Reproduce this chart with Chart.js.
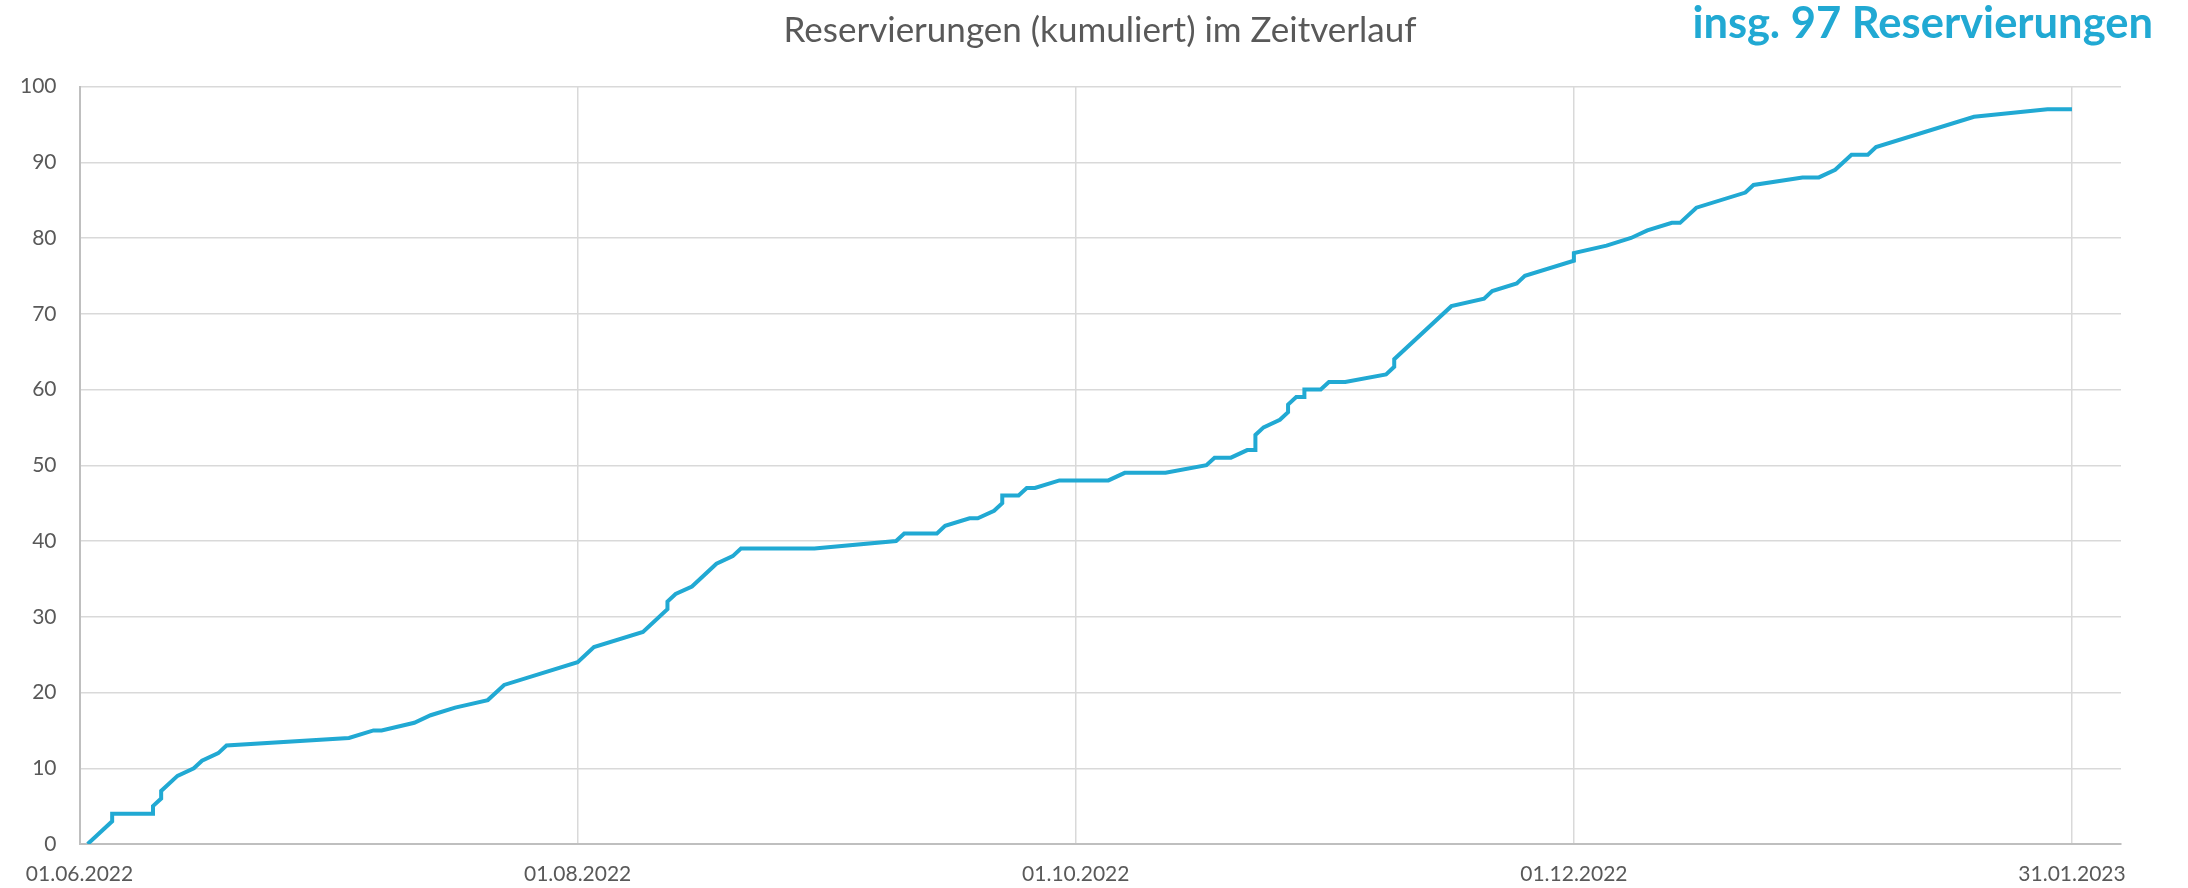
<!DOCTYPE html>
<html>
<head>
<meta charset="utf-8">
<script src="https://cdn.jsdelivr.net/npm/chart.js@4/dist/chart.umd.min.js"></script>
<style>
  html, body { margin: 0; padding: 0; background: #ffffff; }
  #wrap { position: relative; width: 2188px; height: 888px; }
  #total { position: absolute; right: 35px; top: -5px; font-family: Lato, "Open Sans", sans-serif; font-weight: 700; font-size: 43.5px; color: #21a9d3; white-space: nowrap; }
</style>
</head>
<body>
<div id="wrap">
  <canvas id="c" width="2188" height="888"></canvas>
  <div id="total">insg. 97 Reservierungen</div>
</div>
<script>
// Reservation dates (one point per vertex of the cumulative line)
const dates = [
  '2022-06-02','2022-06-05','2022-06-05','2022-06-10','2022-06-10','2022-06-11','2022-06-11','2022-06-13',
  '2022-06-15','2022-06-16','2022-06-18','2022-06-19','2022-07-04','2022-07-07','2022-07-08','2022-07-12',
  '2022-07-14','2022-07-17','2022-07-21','2022-07-23','2022-08-01','2022-08-03','2022-08-09','2022-08-12',
  '2022-08-12','2022-08-13','2022-08-15','2022-08-18','2022-08-20','2022-08-21','2022-08-30','2022-09-09',
  '2022-09-10','2022-09-14','2022-09-15','2022-09-18','2022-09-19','2022-09-21','2022-09-22','2022-09-22',
  '2022-09-24','2022-09-25','2022-09-26','2022-09-29','2022-10-05','2022-10-07','2022-10-12','2022-10-17',
  '2022-10-18','2022-10-20','2022-10-22','2022-10-23','2022-10-23','2022-10-24','2022-10-26','2022-10-27',
  '2022-10-27','2022-10-28','2022-10-29','2022-10-29','2022-10-31','2022-11-01','2022-11-03','2022-11-08',
  '2022-11-09','2022-11-09','2022-11-16','2022-11-20','2022-11-21','2022-11-24','2022-11-25','2022-12-01',
  '2022-12-01','2022-12-05','2022-12-08','2022-12-10','2022-12-13','2022-12-14','2022-12-16','2022-12-22',
  '2022-12-23','2022-12-29','2022-12-31','2023-01-02','2023-01-04','2023-01-06','2023-01-07','2023-01-19',
  '2023-01-28','2023-01-31'
];
// Cumulative reservations at each date
const cumulative = [
  0, 3, 4, 4, 5, 6, 7, 9,
  10, 11, 12, 13, 14, 15, 15, 16,
  17, 18, 19, 21, 24, 26, 28, 31,
  32, 33, 34, 37, 38, 39, 39, 40,
  41, 41, 42, 43, 43, 44, 45, 46,
  46, 47, 47, 48, 48, 49, 49, 50,
  51, 51, 52, 52, 54, 55, 56, 57,
  58, 59, 59, 60, 60, 61, 61, 62,
  63, 64, 71, 72, 73, 74, 75, 77,
  78, 79, 80, 81, 82, 82, 84, 86,
  87, 88, 88, 89, 91, 91, 92, 96,
  97, 97
];
// X-axis tick dates and axis range
const tickDates = ['2022-06-01','2022-08-01','2022-10-01','2022-12-01','2023-01-31'];
const axisStart = '2022-06-01';
const axisEnd = '2023-02-06';
const yTicks = [0,10,20,30,40,50,60,70,80,90,100];

const DAY = 86400000;
const t0 = Date.parse(axisStart + 'T00:00:00Z');
const toDay = s => Math.round((Date.parse(s + 'T00:00:00Z') - t0) / DAY);
const fmt = d => {
  const dt = new Date(t0 + d * DAY);
  const p = n => String(n).padStart(2, '0');
  return p(dt.getUTCDate()) + '.' + p(dt.getUTCMonth() + 1) + '.' + dt.getUTCFullYear();
};
const points = dates.map((d, i) => ({ x: toDay(d), y: cumulative[i] }));
const tickDays = tickDates.map(toDay);

new Chart(document.getElementById('c'), {
  type: 'line',
  data: {
    datasets: [{
      label: 'Reservierungen',
      data: points,
      borderColor: '#21a9d3',
      borderWidth: 4,
      pointRadius: 0,
      tension: 0,
      fill: false
    }]
  },
  options: {
    responsive: false,
    animation: false,
    layout: { padding: { left: 12, right: 0, top: 0, bottom: 0 } },
    plugins: {
      legend: { display: false },
      tooltip: { enabled: false },
      title: {
        display: true,
        text: 'Reservierungen (kumuliert) im Zeitverlauf',
        color: '#595959',
        font: { family: 'Lato', size: 35, weight: 'normal', lineHeight: 1.2 },
        padding: { top: 10, bottom: 34.5 }
      }
    },
    scales: {
      x: {
        type: 'linear',
        min: toDay(axisStart),
        max: toDay(axisEnd),
        afterBuildTicks: s => { s.ticks = tickDays.map(v => ({ value: v })); },
        afterFit: s => { s.height = 44; },
        ticks: {
          autoSkip: false, maxRotation: 0, minRotation: 0,
          padding: 18,
          color: '#595959',
          font: { family: 'Lato', size: 21 },
          callback: v => fmt(v)
        },
        grid: { color: '#d9d9d9', lineWidth: 1.5, drawTicks: false },
        border: { color: '#bfbfbf', width: 2 }
      },
      y: {
        min: 0, max: 100,
        afterBuildTicks: s => { s.ticks = yTicks.map(v => ({ value: v })); },
        afterFit: s => { s.width = 67.5; },
        ticks: {
          padding: 23,
          color: '#595959',
          font: { family: 'Lato', size: 21 }
        },
        grid: { color: '#d9d9d9', lineWidth: 1.5, drawTicks: false },
        border: { color: '#bfbfbf', width: 2 }
      },
      yRight: {
        type: 'linear',
        position: 'right',
        min: 0, max: 100,
        afterFit: s => { s.width = 67; },
        ticks: { display: false },
        grid: { display: false, drawTicks: false },
        border: { display: false }
      }
    }
  }
});
</script>
</body>
</html>
